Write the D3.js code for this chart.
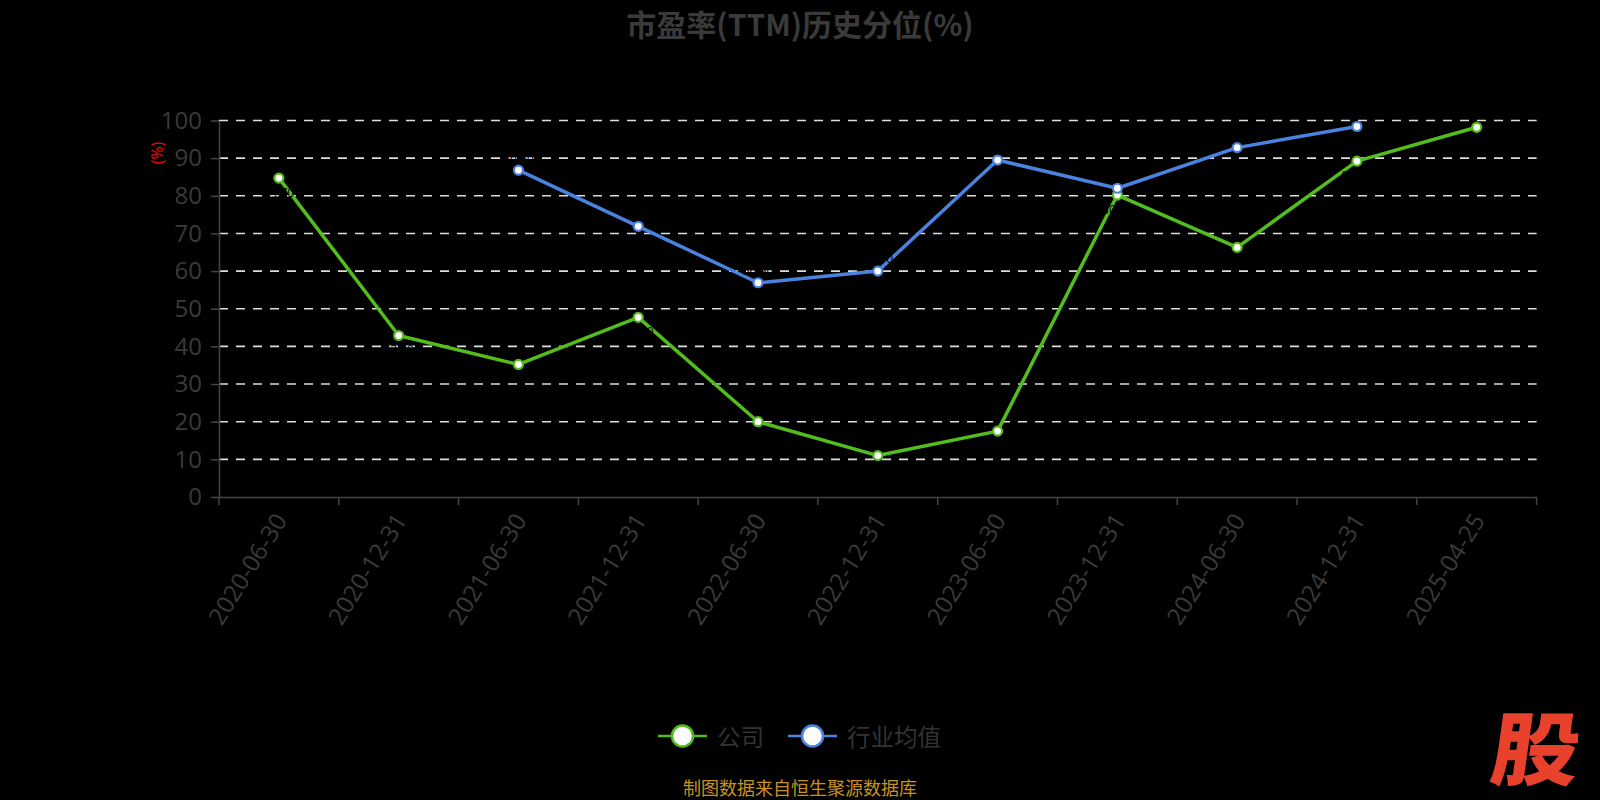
<!DOCTYPE html>
<html>
<head>
<meta charset="utf-8">
<script src="https://cdn.jsdelivr.net/npm/d3@7/dist/d3.min.js"></script>
<style>
html,body{margin:0;padding:0;background:#000;}
svg{display:block;}
</style>
</head>
<body>
<svg id="chart" width="1600" height="800"></svg>
<script>
const categories = ["2020-06-30","2020-12-31","2021-06-30","2021-12-31","2022-06-30","2022-12-31","2023-06-30","2023-12-31","2024-06-30","2024-12-31","2025-04-25"];
const companyValues = [84.7, 42.9, 35.2, 47.7, 20.0, 11.0, 17.5, 80.2, 66.3, 89.2, 98.2];
const industryValues = [null, null, 86.8, 71.9, 56.9, 60.0, 89.5, 82.0, 92.8, 98.4, null];
const yTicks = [0,10,20,30,40,50,60,70,80,90,100];
const seriesNames = ["公司", "行业均值"];
const titleText = "市盈率(TTM)历史分位(%)";
const yAxisName = "(%)";
const footerText = "制图数据来自恒生聚源数据库";

(function () {
const W = 1600, H = 800;
const plotLeft = 219, plotRight = 1536.6, plotTop = 120.5, plotBottom = 497;
const green = "#52bd1c", blue = "#4a82e0";
const cjk = "'Noto Sans CJK SC', 'Noto Sans', sans-serif";
const latin = "'Open Sans', 'Noto Sans', sans-serif";

const svg = d3.select("#chart");
svg.append("rect").attr("width", W).attr("height", H).attr("fill", "#000");

const x = d3.scaleBand().domain(categories).range([plotLeft, plotRight]).padding(0);
const y = d3.scaleLinear().domain([0, 100]).range([plotBottom, plotTop]);
const cx = c => x(c) + x.bandwidth() / 2;

// title
svg.append("text").attr("x", 800).attr("y", 23).attr("text-anchor", "middle")
  .attr("dominant-baseline", "central")
  .attr("font-family", cjk).attr("font-weight", "bold").attr("font-size", 30)
  .attr("fill", "#3a3a3a").text(titleText);

// grid lines
svg.append("g").selectAll("line").data(yTicks.filter(t => t > 0)).join("line")
  .attr("x1", plotLeft).attr("x2", plotRight).attr("y1", d => y(d)).attr("y2", d => y(d))
  .attr("stroke", "#dddddd").attr("stroke-width", 1.6).attr("stroke-dasharray", "9,8");

// y axis
const yAxis = svg.append("g").attr("transform", `translate(${plotLeft},0)`)
  .call(d3.axisLeft(y).tickValues(yTicks).tickSize(8).tickPadding(9).tickSizeOuter(0));
yAxis.select(".domain").attr("stroke", "#444").attr("stroke-width", 1.5);
yAxis.selectAll(".tick line").attr("stroke", "#444").attr("stroke-width", 1.5);
yAxis.selectAll(".tick text").attr("font-family", latin).attr("font-size", 24).attr("fill", "#3a3a3a");

// y axis name
svg.append("text").attr("transform", `translate(157,153) rotate(-90)`)
  .attr("text-anchor", "middle").attr("dominant-baseline", "central")
  .attr("font-family", latin).attr("font-size", 16).attr("fill", "#ff0000").text(yAxisName);

// x axis
const xAxis = svg.append("g").attr("transform", `translate(0,${plotBottom})`)
  .call(d3.axisBottom(x).tickSize(0).tickSizeOuter(0).tickPadding(0));
xAxis.select(".domain").attr("stroke", "#444").attr("stroke-width", 1.5);
xAxis.selectAll(".tick text")
  .attr("font-family", latin).attr("font-size", 24).attr("fill", "#3a3a3a")
  .attr("text-anchor", "end").attr("dy", "0.35em")
  .attr("transform", "translate(2,19) rotate(-58)");
// boundary ticks
const edges = categories.map(c => x(c)).concat([plotRight]);
svg.append("g").selectAll("line").data(edges).join("line")
  .attr("x1", d => d).attr("x2", d => d).attr("y1", plotBottom).attr("y2", plotBottom + 8)
  .attr("stroke", "#444").attr("stroke-width", 1.5);

// lines
function drawSeries(vals, color, labelDy) {
  const data = categories.map((c, i) => ({c, v: vals[i]}));
  const line = d3.line().defined(d => d.v != null).x(d => cx(d.c)).y(d => y(d.v));
  svg.append("path").datum(data).attr("d", line).attr("fill", "none")
    .attr("stroke", color).attr("stroke-width", 3.5).attr("stroke-linejoin", "round");
  const pts = data.filter(d => d.v != null);
  // black data labels (as in reference, nearly invisible on black)
  svg.append("g").selectAll("text").data(pts).join("text")
    .attr("x", d => cx(d.c)).attr("y", d => y(d.v) + labelDy).attr("text-anchor", "middle")
    .attr("font-family", latin).attr("font-size", 12).attr("fill", "#000")
    .text(d => d.v.toFixed(2));
  svg.append("g").selectAll("circle").data(pts).join("circle")
    .attr("cx", d => cx(d.c)).attr("cy", d => y(d.v)).attr("r", 4.5)
    .attr("fill", "#fff").attr("stroke", color).attr("stroke-width", 2.2);
}
drawSeries(companyValues, green, 19);
drawSeries(industryValues, blue, -8);

// legend
const legend = [{name: seriesNames[0], color: green, x: 658}, {name: seriesNames[1], color: blue, x: 788}];
const lg = svg.append("g");
legend.forEach(l => {
  lg.append("line").attr("x1", l.x).attr("x2", l.x + 49).attr("y1", 736).attr("y2", 736)
    .attr("stroke", l.color).attr("stroke-width", 2.5);
  lg.append("circle").attr("cx", l.x + 24.5).attr("cy", 736).attr("r", 10.5)
    .attr("fill", "#fff").attr("stroke", l.color).attr("stroke-width", 2.5);
  lg.append("text").attr("x", l.x + 59).attr("y", 736).attr("dominant-baseline", "central")
    .attr("font-family", cjk).attr("font-size", 23.5).attr("fill", "#333").text(l.name);
});

// footer
svg.append("text").attr("x", 800).attr("y", 787).attr("text-anchor", "middle")
  .attr("dominant-baseline", "central")
  .attr("font-family", cjk).attr("font-size", 18).attr("fill", "#c8921e").text(footerText);

// logo
svg.append("text").attr("transform", "translate(1537,744) skewX(-8) scale(1.1,1)").attr("text-anchor", "middle")
  .attr("dominant-baseline", "central")
  .attr("font-family", cjk).attr("font-weight", 900).attr("font-size", 80)
  .attr("fill", "#e8412c").text("股");
})();
</script>
</body>
</html>
